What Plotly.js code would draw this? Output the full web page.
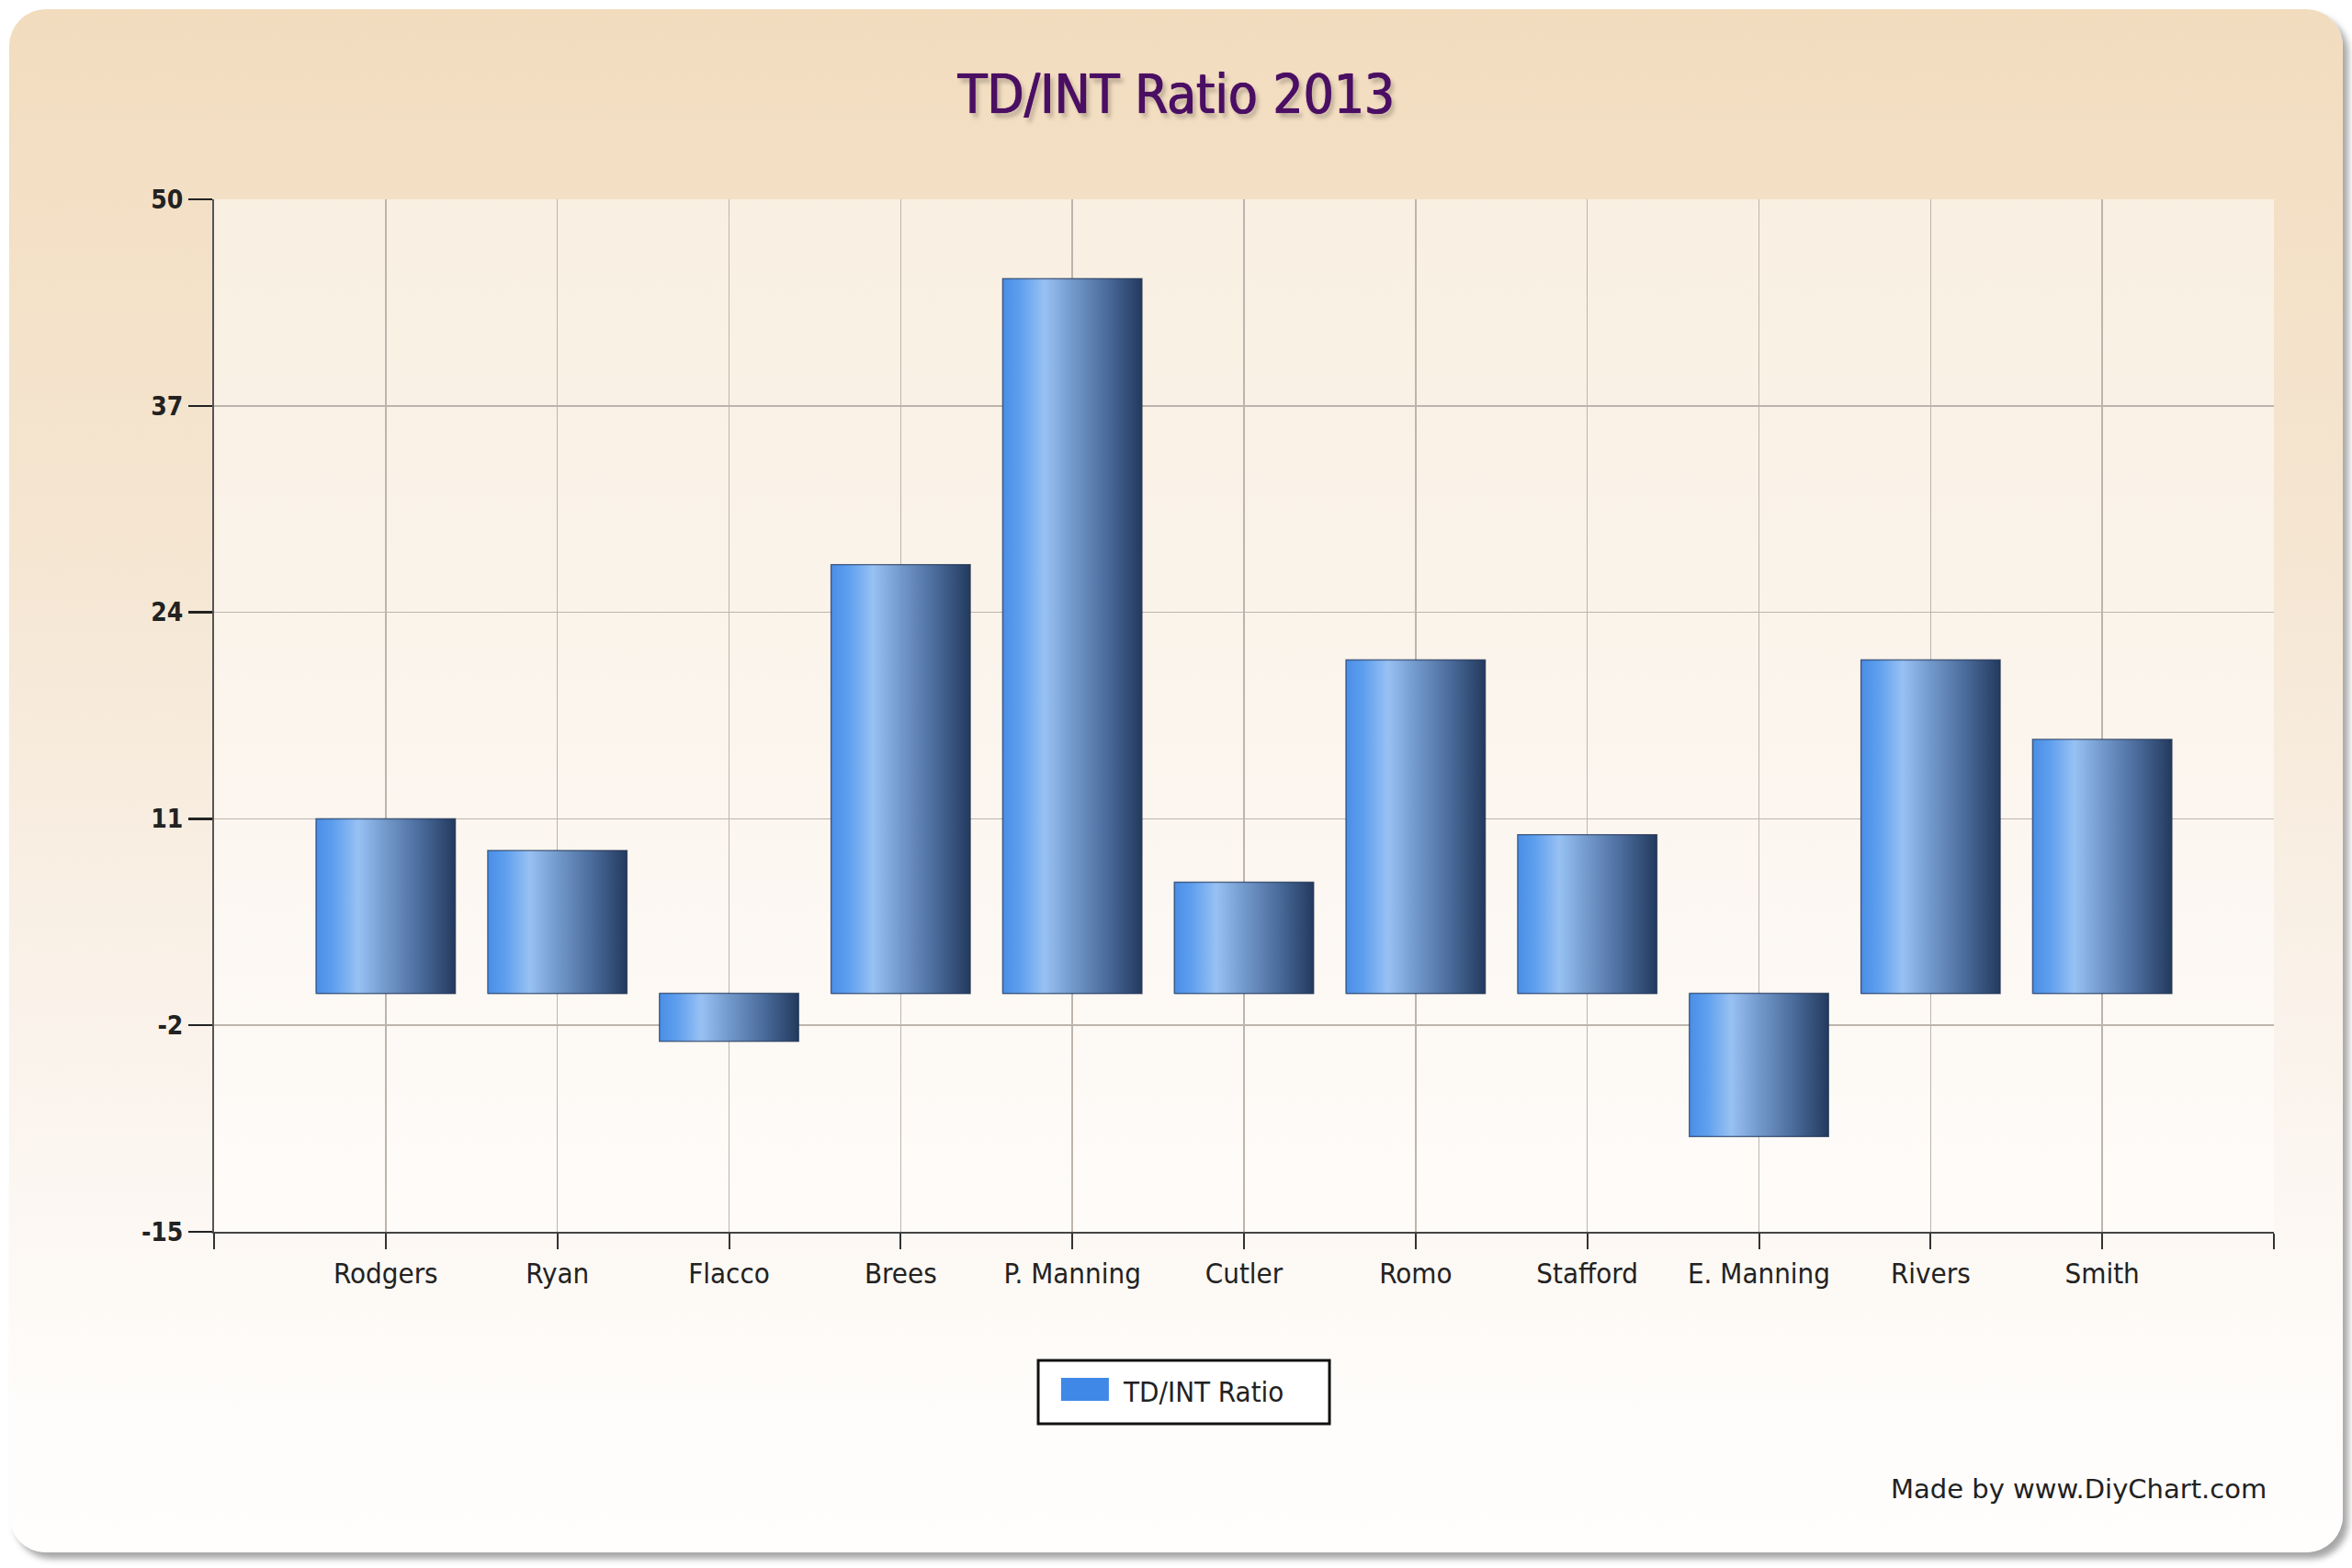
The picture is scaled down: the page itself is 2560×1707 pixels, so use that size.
<!DOCTYPE html>
<html>
<head>
<meta charset="utf-8">
<script src="https://cdn.plot.ly/plotly-3.0.1.min.js"></script>
<style>
	html, body { margin:0; padding:0; background:#ffffff; }
	#card {
		position:absolute; left:10px; top:10px; width:2540px; height:1680px;
		border-radius:40px;
		background:linear-gradient(to bottom, #f2dcbe 0%, #f5e6d2 35%, #faf2ea 65%, #fefcfa 90%, #fffefd 100%);
		box-shadow:6px 7px 7px rgba(0,0,0,0.35);
	}
	#chart { position:absolute; left:0; top:0; width:2560px; height:1707px; }
</style>
</head>
<body>
<div id="card"></div>
<div id="chart"></div>
<script>
// TD minus INT, 2013 season
var players = ["Rodgers", "Ryan", "Flacco", "Brees", "P. Manning", "Cutler", "Romo", "Stafford", "E. Manning", "Rivers", "Smith"];
var ratio = [11, 9, -3, 27, 45, 7, 21, 10, -9, 21, 16];
var yTicks = [-15, -2, 11, 24, 37, 50];
var yTickText = ["-15", "-2", "11", "24", "37", "50"];
var seriesName = "TD/INT Ratio";

var barWidth = 0.81;
var barShade = [
	[0, "#4a8ee6"], [0.12, "#5d9eee"], [0.3, "#98c1f3"],
	[0.5, "#7399cb"], [0.75, "#4a6b9b"], [1, "#233a5e"]
];

var idx = players.map(function(p, i){ return i; });

var data = [];

// plain bars underneath
data.push({
	type: "bar",
	x: idx,
	y: ratio,
	width: barWidth,
	name: seriesName,
	showlegend: false,
	marker: { color: "#4a8ee6", line: { color: "rgba(30,45,75,0.5)", width: 1.5 } },
	hoverinfo: "x+y"
});

// gradient face for each bar, built from the same values
for (var i = 0; i < ratio.length; i++){
	var l = idx[i] - barWidth/2, r = idx[i] + barWidth/2;
	data.push({
		type: "scatter",
		mode: "lines",
		x: [l, r, r, l, l],
		y: [0, 0, ratio[i], ratio[i], 0],
		fill: "toself",
		fillgradient: { type: "horizontal", colorscale: barShade },
		line: { color: "rgba(30,45,75,0.45)", width: 1.5 },
		showlegend: false,
		hoverinfo: "skip"
	});
}

var xTickVals = [-1].concat(idx, [players.length]);
var xTickText = [""].concat(players, [""]);

var font = "'DejaVu Sans Condensed', 'DejaVu Sans', sans-serif";
var gridCol = "#bdb5ad";

var layout = {
	width: 2560,
	height: 1707,
	margin: { l: 233, r: 85, t: 217, b: 366 },
	paper_bgcolor: "rgba(0,0,0,0)",
	plot_bgcolor: "rgba(255,255,255,0.5)",
	showlegend: false,
	font: { family: font, color: "#222222" },
	title: {
		text: "TD/INT Ratio 2013",
		x: 0.5, xref: "container", xanchor: "center",
		y: 1 - 103/1707, yanchor: "middle",
		font: { family: font, size: 58, color: "#4a0e63", weight: "normal",
			shadow: "0 0 1px #4a0e63, 1px 0 0 #4a0e63, 4px 5px 4px rgba(90,80,70,0.35)" }
	},
	xaxis: {
		range: [-1, players.length],
		tickvals: xTickVals,
		ticktext: xTickText,
		showgrid: true,
		gridcolor: gridCol,
		gridwidth: 1.5,
		zeroline: false,
		showline: true,
		linecolor: "#444444",
		linewidth: 2,
		ticks: "outside",
		ticklen: 17,
		tickwidth: 2,
		tickcolor: "#333333",
		tickfont: { size: 31, color: "#222222" },
		fixedrange: true
	},
	yaxis: {
		range: [yTicks[0], yTicks[yTicks.length - 1]],
		tickvals: yTicks,
		ticktext: yTickText,
		showgrid: true,
		gridcolor: gridCol,
		gridwidth: 1.5,
		zeroline: false,
		showline: true,
		linecolor: "#555555",
		linewidth: 2,
		ticks: "outside",
		ticklen: 26,
		tickwidth: 2.5,
		tickcolor: "#222222",
		tickfont: { size: 28, color: "#222222", weight: 600 },
		fixedrange: true
	},
	shapes: [
		// legend box
		{ type: "rect", xref: "paper", yref: "paper", x0: 0.4001, x1: 0.5415, y0: -0.186, y1: -0.1246,
			line: { color: "#111111", width: 3 }, fillcolor: "#ffffff", layer: "above" },
		// legend swatch
		{ type: "rect", xref: "paper", yref: "paper", x0: 0.4112, x1: 0.4344, y0: -0.1637, y1: -0.1415,
			line: { width: 0 }, fillcolor: "#3f88e8", layer: "above" }
	],
	annotations: [
		{ text: seriesName, xref: "paper", yref: "paper", x: 0.4403, y: -0.1548,
			xanchor: "left", yanchor: "middle", showarrow: false,
			font: { family: font, size: 31, color: "#222222" } },
		{ text: "Made by www.DiyChart.com", xref: "paper", yref: "paper", x: 0.9973, y: -0.249,
			xanchor: "right", yanchor: "middle", showarrow: false,
			font: { family: "'DejaVu Sans', sans-serif", size: 29, color: "#222222" } }
	]
};

Plotly.newPlot("chart", data, layout, { displayModeBar: false, staticPlot: true });
</script>
</body>
</html>
